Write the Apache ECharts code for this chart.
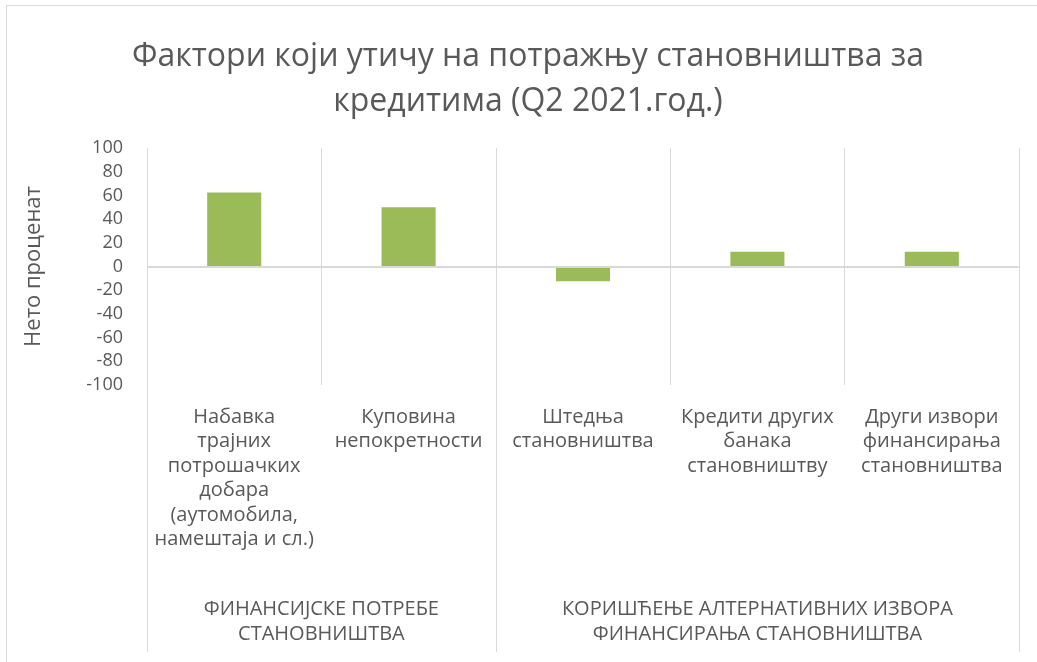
<!DOCTYPE html>
<html lang="sr">

<head>
    <meta charset="UTF-8">
    <title>Фактори који утичу на потражњу становништва за кредитима</title>
    <script src="https://cdn.jsdelivr.net/npm/echarts/dist/echarts.min.js"></script>
    <style>
        body {
            margin: 0;
            background: #fff;
            overflow: hidden;
        }

        /* оквир графикона */
        #frame {
            position: absolute;
            left: 6px;
            top: 5px;
            width: 1100px;
            height: 700px;
            border: 1px solid #d9d9d9;
        }

        #main {
            position: absolute;
            left: 0;
            top: 0;
            width: 1037px;
            height: 662px;
        }
    </style>
</head>

<body>
    <div id="frame"></div>
    <div id="main"></div>

    <script>
        // подаци
        const categories = [
            'Набавка\nтрајних\nпотрошачких\nдобара\n(аутомобила,\nнамештаја и сл.)',
            'Куповина\nнепокретности',
            'Штедња\nстановништва',
            'Кредити других\nбанака\nстановништву',
            'Други извори\nфинансирања\nстановништва'
        ];
        const values = [62.5, 50, -12.5, 12.5, 12.5];

        // групе категорија: назив и број категорија у групи
        const groupNames = ['ФИНАНСИЈСКЕ ПОТРЕБЕ\nСТАНОВНИШТВА', 'КОРИШЋЕЊЕ АЛТЕРНАТИВНИХ ИЗВОРА\nФИНАНСИРАЊА СТАНОВНИШТВА'];
        const groupSizes = [2, 3];

        const yTicks = [-100, -80, -60, -40, -20, 0, 20, 40, 60, 80, 100];

        // границе и средине група (у јединицама категорија)
        const groupBounds = [0];
        const groupCenters = [];
        groupSizes.forEach(n => {
            const start = groupBounds[groupBounds.length - 1];
            groupCenters.push(start + n / 2);
            groupBounds.push(start + n);
        });

        const font = 'Open Sans';
        const textColor = '#595959';
        const lineColor = '#d9d9d9';

        const myChart = echarts.init(document.getElementById('main'));

        const option = {
            animation: false,
            textStyle: { fontFamily: font },
            title: {
                text: 'Фактори који утичу на потражњу становништва за\nкредитима (Q2 2021.год.)',
                left: 523,
                textAlign: 'center',
                top: 29,
                textStyle: {
                    fontFamily: font,
                    fontWeight: 'normal',
                    fontSize: 32,
                    lineHeight: 45,
                    color: textColor
                }
            },
            grid: [
                { left: 147, right: 18, top: 148, bottom: 277 },
                { left: 147, right: 18, top: 385, bottom: 10 }
            ],
            xAxis: [
                {
                    type: 'category',
                    gridIndex: 0,
                    data: categories,
                    axisLine: { show: false },
                    axisTick: { show: false },
                    splitLine: { show: true, lineStyle: { color: lineColor, width: 1 } },
                    axisLabel: {
                        interval: 0,
                        margin: 20,
                        fontSize: 20,
                        lineHeight: 24.4,
                        color: textColor,
                        fontFamily: font
                    }
                },
                {
                    type: 'value',
                    gridIndex: 1,
                    min: 0,
                    max: groupBounds[groupBounds.length - 1],
                    interval: 0.5,
                    axisLine: { show: false },
                    axisTick: { show: false },
                    splitLine: { show: false },
                    axisLabel: {
                        inside: true,
                        margin: 5,
                        fontSize: 20,
                        lineHeight: 25,
                        color: textColor,
                        fontFamily: font,
                        showMinLabel: true,
                        showMaxLabel: true,
                        formatter: v => {
                            const i = groupCenters.indexOf(v);
                            return i >= 0 ? groupNames[i] : '';
                        }
                    }
                }
            ],
            yAxis: [
                {
                    type: 'value',
                    gridIndex: 0,
                    min: yTicks[0],
                    max: yTicks[yTicks.length - 1],
                    interval: yTicks[1] - yTicks[0],
                    name: 'Нето проценат',
                    nameLocation: 'middle',
                    nameRotate: 90,
                    nameGap: 102,
                    nameTextStyle: { fontSize: 22, color: textColor, fontFamily: font },
                    axisLine: { show: false },
                    axisTick: { show: false },
                    splitLine: { show: false },
                    axisLabel: { fontSize: 18, margin: 24, color: textColor, fontFamily: font }
                },
                {
                    type: 'value',
                    gridIndex: 1,
                    min: 0,
                    max: 1,
                    show: false
                }
            ],
            series: [
                {
                    type: 'bar',
                    xAxisIndex: 0,
                    yAxisIndex: 0,
                    data: values,
                    barCategoryGap: '69%',
                    itemStyle: { color: '#9bbb59' },
                    markLine: {
                        silent: true,
                        symbol: 'none',
                        label: { show: false },
                        lineStyle: { color: lineColor, width: 2, type: 'solid' },
                        data: [{ yAxis: 0 }]
                    }
                },
                {
                    type: 'line',
                    xAxisIndex: 1,
                    yAxisIndex: 1,
                    data: [],
                    markLine: {
                        silent: true,
                        symbol: 'none',
                        label: { show: false },
                        lineStyle: { color: lineColor, width: 1, type: 'solid' },
                        data: groupBounds.map(b => ({ xAxis: b }))
                    }
                }
            ]
        };

        myChart.setOption(option);
    </script>
</body>

</html>
